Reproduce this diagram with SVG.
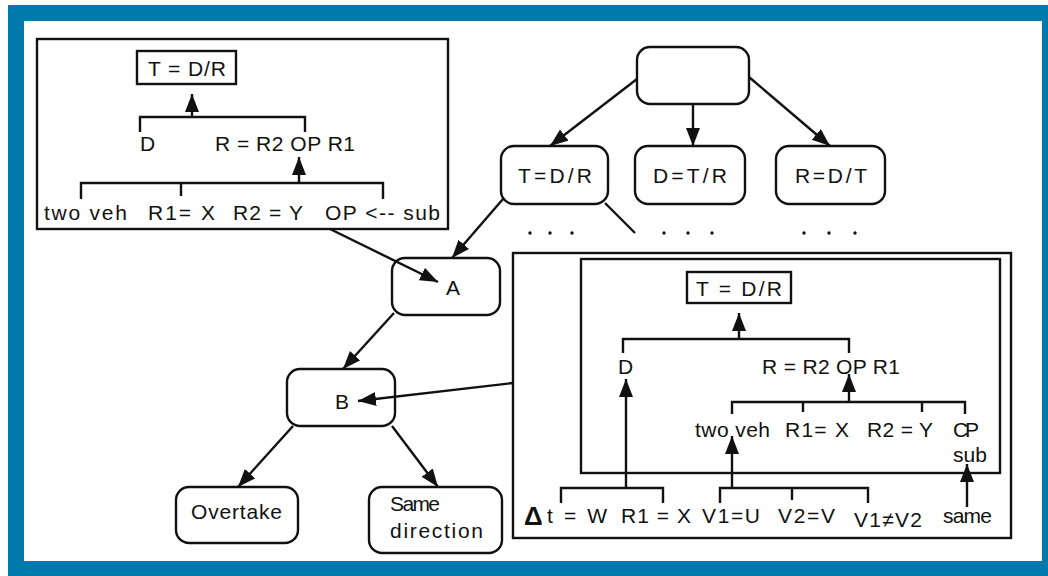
<svg xmlns="http://www.w3.org/2000/svg" width="1048" height="576" viewBox="0 0 1048 576">
  <style>
    .frame { fill: #0079ac; }
    .paper { fill: #ffffff; }
    .box { fill: #ffffff; stroke: #111; stroke-width: 2.4; }
    .panel { fill: none; stroke: #111; stroke-width: 2.4; }
    .wire { fill: none; stroke: #111; stroke-width: 2.4; }
    .arrow { fill: none; stroke: #111; stroke-width: 2.4; marker-end: url(#head); }
    .txt { font-family: "Liberation Sans", Arial, Helvetica, sans-serif; font-size: 21px; fill: #111; }
    .mid { text-anchor: middle; }
    .dot { fill: #111; }
  </style>
  <defs>
    <marker id="head" markerUnits="userSpaceOnUse" markerWidth="19" markerHeight="15" refX="18" refY="7" orient="auto">
      <path d="M0,0 L18,7 L0,14 z" fill="#111"/>
    </marker>
  </defs>

  <!-- outer frame -->
  <rect class="frame" x="8" y="5" width="1040" height="571"/>
  <rect class="paper" x="24" y="21" width="1018" height="540"/>

  <!-- inset: derivation tree for A -->
  <g id="panel-a">
    <rect class="panel" x="37" y="39" width="411" height="190"/>
    <rect class="panel" x="137" y="51" width="99" height="33"/>
    <text class="txt mid" x="187" y="76" textLength="78">T = D/R</text>
    <path class="wire" d="M140,132 V117 H305 V132"/>
    <line class="arrow" x1="192" y1="117" x2="192" y2="94"/>
    <text class="txt" x="140" y="151">D</text>
    <text class="txt" x="215" y="151" textLength="140">R = R2 OP R1</text>
    <path class="wire" d="M81,199 V183 H383 V199 M181,183 V196"/>
    <line class="arrow" x1="299" y1="183" x2="299" y2="157"/>
    <text class="txt" x="44" y="220" textLength="83">two veh</text>
    <text class="txt" x="148" y="220" textLength="67">R1= X</text>
    <text class="txt" x="233" y="220" textLength="70">R2 = Y</text>
    <text class="txt" x="325" y="220" textLength="115">OP &lt;-- sub</text>
  </g>

  <!-- top tree -->
  <g id="root">
    <rect class="box" x="637" y="47" width="112" height="57" rx="13"/>
  </g>
  <g id="node-tdr">
    <rect class="box" x="501" y="146" width="107" height="58" rx="13"/>
    <text class="txt mid" x="555" y="183" textLength="74">T=D/R</text>
  </g>
  <g id="node-dtr">
    <rect class="box" x="635" y="146" width="110" height="58" rx="13"/>
    <text class="txt mid" x="690" y="183" textLength="74">D=T/R</text>
  </g>
  <g id="node-rdt">
    <rect class="box" x="776" y="146" width="109" height="58" rx="13"/>
    <text class="txt mid" x="831" y="183" textLength="72">R=D/T</text>
  </g>

  <g id="ellipses">
    <circle class="dot" cx="530" cy="233" r="1.7"/>
    <circle class="dot" cx="550" cy="233" r="1.7"/>
    <circle class="dot" cx="572" cy="233" r="1.7"/>
    <circle class="dot" cx="664" cy="233" r="1.7"/>
    <circle class="dot" cx="688" cy="233" r="1.7"/>
    <circle class="dot" cx="712" cy="233" r="1.7"/>
    <circle class="dot" cx="804" cy="233" r="1.7"/>
    <circle class="dot" cx="829" cy="233" r="1.7"/>
    <circle class="dot" cx="855" cy="233" r="1.7"/>
  </g>

  <g id="node-a">
    <rect class="box" x="392" y="258" width="108" height="57" rx="13"/>
    <text class="txt mid" x="453" y="295">A</text>
  </g>
  <g id="node-b">
    <rect class="box" x="287" y="369" width="108" height="57" rx="13"/>
    <text class="txt mid" x="342" y="409">B</text>
  </g>
  <g id="node-overtake">
    <rect class="box" x="176" y="487" width="122" height="56" rx="13"/>
    <text class="txt" x="191" y="519" textLength="91">Overtake</text>
  </g>
  <g id="node-same-direction">
    <rect class="box" x="369" y="487" width="133" height="66" rx="13"/>
    <text class="txt" x="390" y="511" textLength="50">Same</text>
    <text class="txt" x="390" y="538" textLength="93">direction</text>
  </g>

  <!-- inset: derivation tree for B -->
  <g id="panel-b">
    <rect class="panel" x="513" y="253" width="498" height="285"/>
    <rect class="panel" x="581" y="259" width="419" height="214"/>
    <rect class="panel" x="687" y="272" width="104" height="31"/>
    <text class="txt mid" x="739" y="296" textLength="86">T = D/R</text>
    <path class="wire" d="M623,353 V339 H849 V353"/>
    <line class="arrow" x1="739" y1="339" x2="739" y2="313"/>
    <text class="txt" x="618" y="374">D</text>
    <text class="txt" x="762" y="374" textLength="138">R = R2 OP R1</text>
    <path class="wire" d="M732,414 V402 H965 V414 M803,402 V412 M922,402 V412"/>
    <line class="arrow" x1="849" y1="402" x2="849" y2="374"/>
    <text class="txt" x="695" y="437" textLength="75">two veh</text>
    <text class="txt" x="785" y="437" textLength="64">R1= X</text>
    <text class="txt" x="867" y="437" textLength="66">R2 = Y</text>
    <text class="txt" x="953" y="437" textLength="26">CP</text>
    <text class="txt" x="953" y="462" textLength="34">sub</text>
    <path class="wire" d="M561,503 V488 H663 V503"/>
    <line class="arrow" x1="626" y1="488" x2="626" y2="379"/>
    <path class="wire" d="M720,503 V488 H868 V503 M792,488 V500"/>
    <line class="arrow" x1="732" y1="488" x2="732" y2="436"/>
    <line class="arrow" x1="967" y1="507" x2="967" y2="464"/>
    <text class="txt" x="524" y="525" style="font-size:26px;font-weight:bold">Δ</text>
    <text class="txt" x="547" y="523" textLength="60">t = W</text>
    <text class="txt" x="621" y="523" textLength="70">R1 = X</text>
    <text class="txt" x="702" y="523" textLength="58">V1=U</text>
    <text class="txt" x="778" y="523" textLength="57">V2=V</text>
    <text class="txt" x="854" y="527" textLength="68">V1≠V2</text>
    <text class="txt" x="943" y="523" textLength="49">same</text>
  </g>

  <!-- connectors -->
  <g id="connectors">
    <line class="arrow" x1="637" y1="79" x2="550" y2="146"/>
    <line class="arrow" x1="693" y1="104" x2="693" y2="146"/>
    <line class="arrow" x1="749" y1="77" x2="830" y2="146"/>
    <line class="arrow" x1="503" y1="199" x2="452" y2="258"/>
    <line class="wire" x1="605" y1="203" x2="635" y2="233"/>
    <line class="arrow" x1="330" y1="229" x2="438" y2="282"/>
    <line class="arrow" x1="394" y1="313" x2="343" y2="369"/>
    <line class="arrow" x1="513" y1="383" x2="358" y2="401"/>
    <line class="arrow" x1="293" y1="426" x2="238" y2="487"/>
    <line class="arrow" x1="392" y1="426" x2="438" y2="487"/>
  </g>
</svg>
